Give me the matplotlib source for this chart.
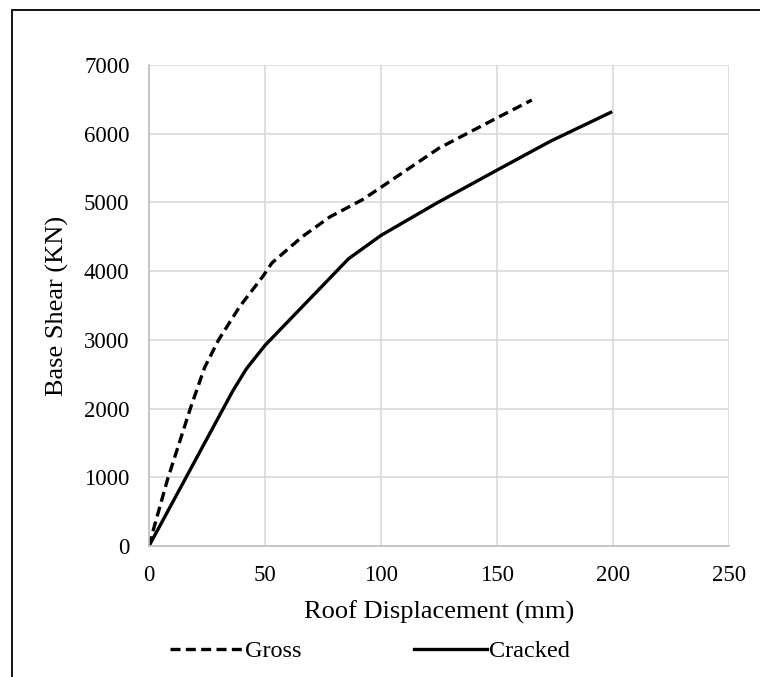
import matplotlib.pyplot as plt
from matplotlib.patches import Rectangle

plt.rcParams['font.family'] = ['Liberation Serif', 'DejaVu Serif']

# Gross section (dashed)
gross_disp = [0, 2, 8, 18, 24, 30, 39, 49, 53, 66, 78, 92, 100, 125, 150, 165]
gross_shear = [0, 250, 970, 2020, 2600, 3000, 3480, 3920, 4120, 4500, 4790, 5040, 5220, 5790, 6230, 6490]

# Cracked section (solid)
cracked_disp = [0, 36, 42, 50, 66, 86, 100, 124, 150, 173, 199]
cracked_shear = [0, 2250, 2580, 2920, 3480, 4180, 4520, 4990, 5470, 5890, 6310]

x_ticks = [0, 50, 100, 150, 200, 250]
y_ticks = [0, 1000, 2000, 3000, 4000, 5000, 6000, 7000]

fig = plt.figure(figsize=(7.6, 6.77), dpi=100)
ax = fig.add_axes([149/760, 1 - 546/677, 580/760, 481/677])

ax.plot(gross_disp, gross_shear, color='black', lw=2.4, ls=(0, (3.0, 1.6)), label='Gross')
ax.plot(cracked_disp, cracked_shear, color='black', lw=2.4, label='Cracked')

ax.set_xlim(0, 250)
ax.set_ylim(0, 7000)
ax.set_xticks(x_ticks)
ax.set_yticks(y_ticks)
ax.grid(True, color='#d9d9d9', lw=1.2)
ax.set_axisbelow(True)
ax.tick_params(length=0, labelsize=16.5, pad=14)
for s in ['top', 'right']:
    ax.spines[s].set_visible(False)
for s in ['left', 'bottom']:
    ax.spines[s].set_color('#bfbfbf')
    ax.spines[s].set_linewidth(1.2)

ax.set_xlabel('Roof Displacement (mm)', fontsize=19, labelpad=10)
ax.set_ylabel('Base Shear (KN)', fontsize=19, labelpad=11)

fig.legend(loc='center', bbox_to_anchor=(370/760, 1 - 651/677), ncol=2, frameon=False,
           fontsize=17.5, handlelength=3.0, handletextpad=0.1, columnspacing=4.6)

# outer chart border (left and top visible)
fig.patches.append(Rectangle((12/760, -0.05), 1.1, 1 - 10/677 + 0.05, transform=fig.transFigure,
                             fill=False, edgecolor='black', lw=1.3, clip_on=False))

fig.savefig('out.png', dpi=100)
